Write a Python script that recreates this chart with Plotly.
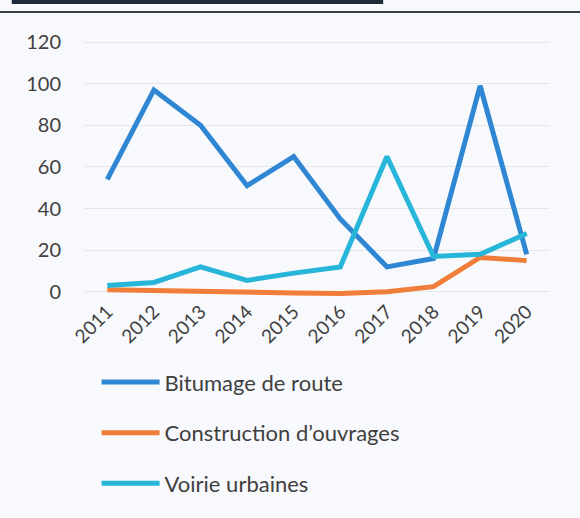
import plotly.graph_objects as go

years = ["2011", "2012", "2013", "2014", "2015", "2016", "2017", "2018", "2019", "2020"]
bitumage = [54, 97, 80, 51, 65, 35, 12, 16, 99, 18]
construction = [1, 0.5, 0, 0, -0.5, -0.8, 0, 2.5, 16.5, 15]
voirie = [3, 4.5, 12, 5.5, 9, 12, 65, 17, 18, 28]

names = ["Bitumage de route", "Construction d\u2019ouvrages", "Voirie urbaines"]
colors = ["#2f86d2", "#f17d3a", "#27b6d9"]

fig = go.Figure()
for i, (n, vals, c) in enumerate(zip(names, [bitumage, construction, voirie], colors)):
    fig.add_trace(go.Scatter(x=years, y=vals, mode="lines", name=n,
                             line=dict(color=c, width=5), legendgroup=f"g{i}"))

font_family = "Lato, 'Open Sans', sans-serif"
fig.update_layout(
    width=580, height=518,
    margin=dict(l=84, r=30, t=40, b=222),
    paper_bgcolor="#f8f9fc", plot_bgcolor="#f8f9fc",
    font=dict(family=font_family, size=18, color="#404040"),
    showlegend=True,
    legend=dict(orientation="v", x=0.027, y=-0.255, xanchor="left", yanchor="top",
                tracegroupgap=19, itemwidth=58, font=dict(size=22, color="#404040"),
                bgcolor="rgba(0,0,0,0)"),
    xaxis=dict(type="category", range=[-0.5, 9.5], tickangle=-45, showgrid=False,
               showline=False, ticks="", tickfont=dict(size=19), automargin=False),
    yaxis=dict(range=[-2, 121], tickvals=[0, 20, 40, 60, 80, 100, 120],
               showgrid=True, gridcolor="#e4e6ea", gridwidth=1, zeroline=False,
               showline=False, ticks="", ticklabelstandoff=22,
               tickfont=dict(size=20), automargin=False),
    shapes=[
        dict(type="line", xref="paper", yref="paper", x0=-0.2, x1=1.1, y0=1.109, y1=1.109,
             line=dict(color="#3a3f48", width=2)),
        dict(type="rect", xref="paper", yref="paper", x0=-0.155, x1=0.642, y0=1.141, y1=1.16,
             fillcolor="#1f2a3a", line=dict(width=0)),
    ],
)

fig.write_html("out.html", config={"displayModeBar": False})
with open("out.html", encoding="utf-8") as f:
    html = f.read()
html = html.replace("<body>", '<body style="margin:0;padding:0;">', 1)
with open("out.html", "w", encoding="utf-8") as f:
    f.write(html)
